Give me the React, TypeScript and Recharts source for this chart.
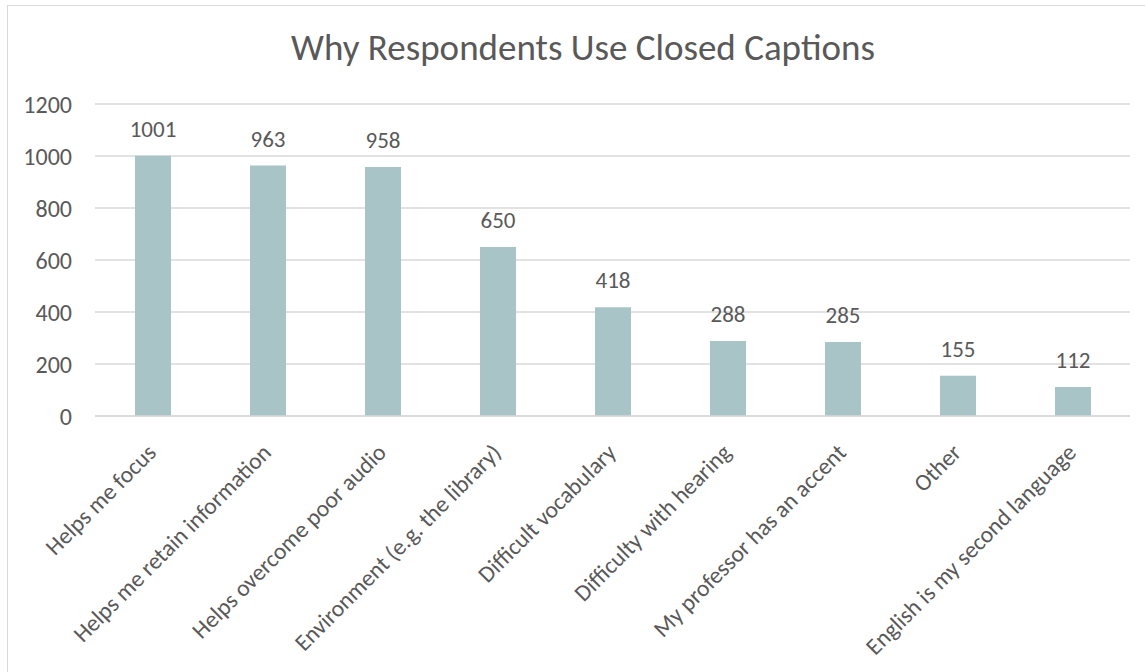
import { Bar, BarChart, CartesianGrid, LabelList, XAxis, YAxis } from "recharts";

const categories = [
  "Helps me focus",
  "Helps me retain information",
  "Helps overcome poor audio",
  "Environment (e.g. the library)",
  "Difficult vocabulary",
  "Difficulty with hearing",
  "My professor has an accent",
  "Other",
  "English is my second language",
];

const counts = [1001, 963, 958, 650, 418, 288, 285, 155, 112];

const yTicks = [0, 200, 400, 600, 800, 1000, 1200];

const FONT = "Carlito, Lato, 'Open Sans', sans-serif";
const TEXT = "#595959";

const chartData = categories.map((name, i) => ({ name, value: counts[i] }));

function AngledTick(props: any) {
  const { x, y, payload } = props;
  const tx = x + 5;
  const ty = y + 30;
  return (
    <text
      x={tx}
      y={ty}
      textAnchor="end"
      fill={TEXT}
      fontSize={23.5}
      fontFamily={FONT}
      transform={`rotate(-45, ${tx}, ${ty})`}
    >
      {payload.value}
    </text>
  );
}

function ValueLabel(props: any) {
  const { x, y, width, value } = props;
  return (
    <text
      x={x + width / 2}
      y={y - 19}
      textAnchor="middle"
      fill={TEXT}
      fontSize={23}
      fontFamily={FONT}
    >
      {value}
    </text>
  );
}

export default function App() {
  return (
    <div
      style={{
        position: "absolute",
        left: 0,
        top: 0,
        width: 1145,
        height: 672,
        overflow: "hidden",
        background: "#fff",
      }}
    >
      <div
        style={{
          position: "absolute",
          left: 7,
          top: 5,
          width: 1160,
          height: 700,
          border: "1.5px solid #d9d9d9",
        }}
      />
      <div
        style={{
          position: "absolute",
          left: 0,
          top: 26,
          width: 1166,
          textAlign: "center",
          fontFamily: FONT,
          fontSize: 37,
          lineHeight: 1.2,
          color: TEXT,
        }}
      >
        Why Respondents Use Closed Captions
      </div>
      <div style={{ position: "absolute", left: 0, top: 0 }}>
        <BarChart
          width={1145}
          height={672}
          data={chartData}
          margin={{ top: 104, right: 15, bottom: 0, left: 0 }}
          barSize={36}
        >
          <CartesianGrid vertical={false} stroke="#d9d9d9" strokeWidth={1.5} />
          <XAxis
            dataKey="name"
            axisLine={{ stroke: "#d9d9d9", strokeWidth: 1.5 }}
            tickLine={false}
            interval={0}
            height={256}
            tick={<AngledTick />}
          />
          <YAxis
            width={95}
            domain={[0, 1200]}
            ticks={yTicks}
            axisLine={false}
            tickLine={false}
            tickSize={0}
            tickMargin={23}
            tick={{ fill: TEXT, fontSize: 24, fontFamily: FONT }}
          />
          <Bar dataKey="value" fill="#a9c4c7" isAnimationActive={false}>
            <LabelList dataKey="value" content={<ValueLabel />} />
          </Bar>
        </BarChart>
      </div>
    </div>
  );
}
